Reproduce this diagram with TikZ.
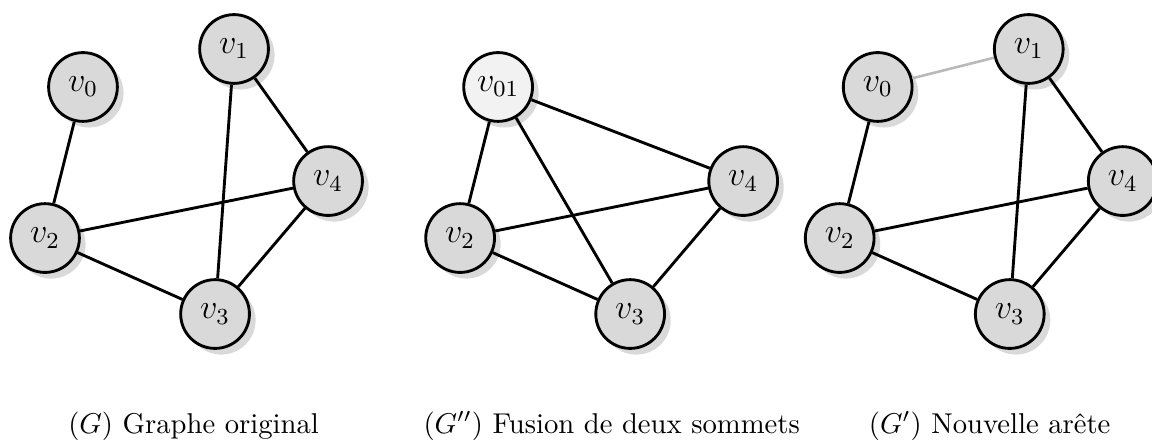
\documentclass[tikz,border=0pt]{standalone}
\usepackage{amsmath,amssymb}
\usepackage{tikz}
\usetikzlibrary{shadows}
\tikzstyle{sommet} = [circle, draw, line width=1pt, fill=gray!30, minimum size=24pt, inner sep=0pt, font=\large, drop shadow={opacity=0.3}]
\tikzstyle{fusion} = [sommet, fill=gray!10]
\tikzstyle{arete} = [line width=1pt]
\tikzstyle{nouvelle} = [line width=0.9pt, gray!55]

\begin{document}
\begin{tikzpicture}
        \useasboundingbox (0,-5.41) rectangle (14.131,0);

        % Graphe original G
        \begin{scope}[shift={(0.552,-2.920)}]
        \node[sommet] (a0) at (0.466,1.853) {$v_0$};
        \node[sommet] (a1) at (2.319,2.319) {$v_1$};
        \node[sommet] (a2) at (0,0) {$v_2$};
        \node[sommet] (a3) at (2.086,-0.932) {$v_3$};
        \node[sommet] (a4) at (3.472,0.699) {$v_4$};

        \draw[arete] (a0) -- (a2);
        \draw[arete] (a1) -- (a3);
        \draw[arete] (a1) -- (a4);
        \draw[arete] (a2) -- (a4);
        \draw[arete] (a2) -- (a3);
        \draw[arete] (a3) -- (a4);
        \end{scope}

        % G'' : v0 et v1 fusionnes
        \begin{scope}[shift={(5.644,-2.920)}]
        \node[fusion] (b01) at (0.466,1.853) {$v_{01}$};
        \node[sommet] (b2) at (0,0) {$v_2$};
        \node[sommet] (b3) at (2.086,-0.932) {$v_3$};
        \node[sommet] (b4) at (3.472,0.699) {$v_4$};

        \draw[arete] (b01) -- (b2);
        \draw[arete] (b01) -- (b3);
        \draw[arete] (b01) -- (b4);
        \draw[arete] (b2) -- (b4);
        \draw[arete] (b2) -- (b3);
        \draw[arete] (b3) -- (b4);
        \end{scope}

        % G' : ajout de l'arete v0v1
        \begin{scope}[shift={(10.300,-2.920)}]
        \node[sommet] (c0) at (0.466,1.853) {$v_0$};
        \node[sommet] (c1) at (2.319,2.319) {$v_1$};
        \node[sommet] (c2) at (0,0) {$v_2$};
        \node[sommet] (c3) at (2.086,-0.932) {$v_3$};
        \node[sommet] (c4) at (3.472,0.699) {$v_4$};

        \draw[nouvelle] (c0) -- (c1);
        \draw[arete] (c0) -- (c2);
        \draw[arete] (c1) -- (c3);
        \draw[arete] (c1) -- (c4);
        \draw[arete] (c2) -- (c4);
        \draw[arete] (c2) -- (c3);
        \draw[arete] (c3) -- (c4);
        \end{scope}

        % Legendes
        \node[anchor=base] (capG) at (2.374,-5.313) {$(G)$ Graphe original};
        \node[anchor=base] (capF) at (7.503,-5.313) {$(G'')$ Fusion de deux sommets};
        \node[anchor=base] (capN) at (12.14,-5.313) {$(G')$ Nouvelle arête};
\end{tikzpicture}
\end{document}
